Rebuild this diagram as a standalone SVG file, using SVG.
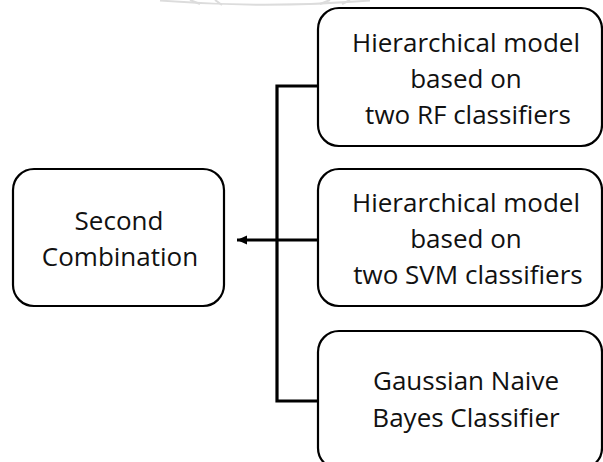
<svg xmlns="http://www.w3.org/2000/svg" width="603" height="462" viewBox="0 0 603 462">
  <style>
    .box { fill: #ffffff; stroke: #000000; stroke-width: 2.2; }
    .label { font-family: "Open Sans", "Liberation Sans", sans-serif; font-size: 26px; fill: #111111; text-anchor: middle; }
    .link { fill: none; stroke: #000000; stroke-width: 3.2; }
    .mark { fill: none; stroke: #dcdcdc; stroke-width: 2; }
  </style>
  <defs>
    <marker id="arrowhead" markerWidth="12" markerHeight="12" refX="10" refY="5" orient="auto" markerUnits="userSpaceOnUse">
      <path d="M0,0.5 L10,5 L0,9.5 Z" fill="#000000"/>
    </marker>
  </defs>

  <rect width="603" height="462" fill="#ffffff"/>

  <!-- faint seal fragment along the top edge -->
  <g id="seal">
    <path class="mark" d="M160,0.5 Q265,9 370,0.5"/>
    <path class="mark" d="M190,0 L200,4 M215,0 L222,5 M330,0 L320,4 M350,0 L342,4" stroke-width="1.5"/>
  </g>

  <!-- connectors -->
  <g id="connectors">
    <path class="link" d="M318,86 H277 V401 H318"/>
    <path class="link" d="M318,240 H237" marker-end="url(#arrowhead)"/>
  </g>

  <g id="second-combination">
    <rect class="box" x="13" y="169" width="211" height="137" rx="21"/>
    <text class="label" x="119" y="230">Second</text>
    <text class="label" x="120" y="266">Combination</text>
  </g>

  <g id="hierarchical-rf">
    <rect class="box" x="318" y="8" width="284" height="138" rx="21"/>
    <text class="label" x="466" y="52">Hierarchical model</text>
    <text class="label" x="466" y="88">based on</text>
    <text class="label" x="468" y="124">two RF classifiers</text>
  </g>

  <g id="hierarchical-svm">
    <rect class="box" x="318" y="169" width="284" height="137" rx="21"/>
    <text class="label" x="466" y="212">Hierarchical model</text>
    <text class="label" x="466" y="248">based on</text>
    <text class="label" x="468" y="284">two SVM classifiers</text>
  </g>

  <g id="gaussian-nb">
    <rect class="box" x="318" y="331" width="284" height="138" rx="21"/>
    <text class="label" x="466" y="390">Gaussian Naive</text>
    <text class="label" x="466" y="427">Bayes Classifier</text>
  </g>
</svg>
